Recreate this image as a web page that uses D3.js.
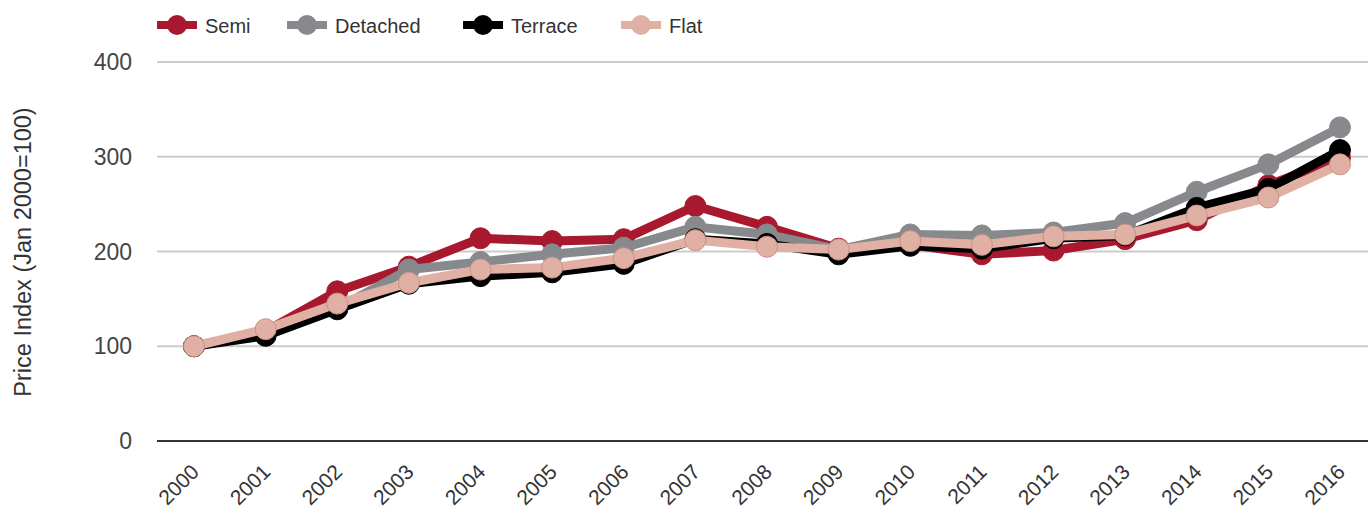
<!DOCTYPE html>
<html>
<head>
<meta charset="utf-8">
<script src="https://cdn.jsdelivr.net/npm/d3@7"></script>
<style>
  body { margin: 0; background: #fff; }
  text { font-family: "Liberation Sans", Arial, sans-serif; }
</style>
</head>
<body>
<div id="chart"></div>
<script>
const years = [2000, 2001, 2002, 2003, 2004, 2005, 2006, 2007, 2008, 2009, 2010, 2011, 2012, 2013, 2014, 2015, 2016];
const semi     = [100, 116, 158, 184, 214, 211, 213, 248, 226, 203, 207, 197, 201, 213, 233, 270, 299];
const detached = [100, 113, 140, 181, 189, 197, 204, 226, 218, 202, 218, 217, 220, 230, 263, 292, 331];
const terrace  = [100, 111, 139, 166, 174, 178, 187, 213, 208, 197, 206, 203, 214, 217, 246, 266, 307];
const flat     = [100, 118, 145, 167, 181, 183, 193, 212, 205, 202, 211, 207, 216, 218, 238, 257, 292];
const yTicks = [0, 100, 200, 300, 400];

const seriesNames = ["Semi", "Detached", "Terrace", "Flat"];
const seriesColors = ["#a8192f", "#88898c", "#000000", "#e1b0a5"];
const seriesData = [semi, detached, terrace, flat];

const margin = {top: 62, right: 0, bottom: 68, left: 157};
const width = 1368, height = 509;
const visWidth = width - margin.left - margin.right;
const visHeight = height - margin.top - margin.bottom;

const svg = d3.select("#chart").append("svg")
  .attr("width", width)
  .attr("height", height);

const g = svg.append("g")
  .attr("transform", `translate(${margin.left}, ${margin.top})`);

const x = d3.scaleLinear()
  .domain([2000, 2016])
  .range([37, 1183]);

const y = d3.scaleLinear()
  .domain([0, 400])
  .range([visHeight, 0]);

// grid
g.append("g")
  .selectAll("line")
  .data(yTicks.filter(d => d > 0))
  .join("line")
  .attr("x1", 0)
  .attr("x2", visWidth)
  .attr("y1", d => y(d))
  .attr("y2", d => y(d))
  .attr("stroke", "#cccccc")
  .attr("stroke-width", 2);

// baseline
g.append("line")
  .attr("x1", 0)
  .attr("x2", visWidth)
  .attr("y1", y(0))
  .attr("y2", y(0))
  .attr("stroke", "#333333")
  .attr("stroke-width", 2);

// y labels
g.append("g")
  .selectAll("text")
  .data(yTicks)
  .join("text")
  .attr("x", -25)
  .attr("y", d => y(d))
  .attr("dy", "0.35em")
  .attr("text-anchor", "end")
  .attr("font-size", 23)
  .attr("fill", "#444")
  .text(d => d);

// x labels
g.append("g")
  .selectAll("text")
  .data(years)
  .join("text")
  .attr("transform", d => `translate(${x(d) + 1}, ${visHeight + 27}) rotate(-45)`)
  .attr("text-anchor", "end")
  .attr("dy", "0.35em")
  .attr("font-size", 21)
  .attr("fill", "#333")
  .text(d => d);

// y title
svg.append("text")
  .attr("transform", `translate(31, 252) rotate(-90)`)
  .attr("text-anchor", "middle")
  .attr("font-size", 23.5)
  .attr("fill", "#333")
  .text("Price Index (Jan 2000=100)");

// lines
const line = d3.line()
  .x((d, i) => x(years[i]))
  .y(d => y(d));

seriesData.forEach((vals, k) => {
  const color = seriesColors[k];
  const sg = g.append("g");
  sg.append("path")
    .datum(vals)
    .attr("d", line)
    .attr("fill", "none")
    .attr("stroke", color)
    .attr("stroke-width", 9)
    .attr("stroke-linejoin", "round");
  sg.selectAll("circle")
    .data(vals)
    .join("circle")
    .attr("cx", (d, i) => x(years[i]))
    .attr("cy", d => y(d))
    .attr("r", 10.5)
    .attr("fill", color)
    .attr("stroke", k === 3 ? "#c99184" : color)
    .attr("stroke-width", 1);
});

// legend
const legendX = [157, 287, 463, 621];
const legend = svg.append("g")
  .selectAll("g")
  .data(seriesNames)
  .join("g")
  .attr("transform", (d, i) => `translate(${legendX[i]}, 25)`);

legend.append("line")
  .attr("x1", 0)
  .attr("x2", 40)
  .attr("stroke", (d, i) => seriesColors[i])
  .attr("stroke-width", 8);

legend.append("circle")
  .attr("cx", 20)
  .attr("r", 10)
  .attr("fill", (d, i) => seriesColors[i]);

legend.append("text")
  .attr("x", 48)
  .attr("y", 1)
  .attr("dy", "0.35em")
  .attr("font-size", 20)
  .attr("fill", "#333")
  .text(d => d);
</script>
</body>
</html>
